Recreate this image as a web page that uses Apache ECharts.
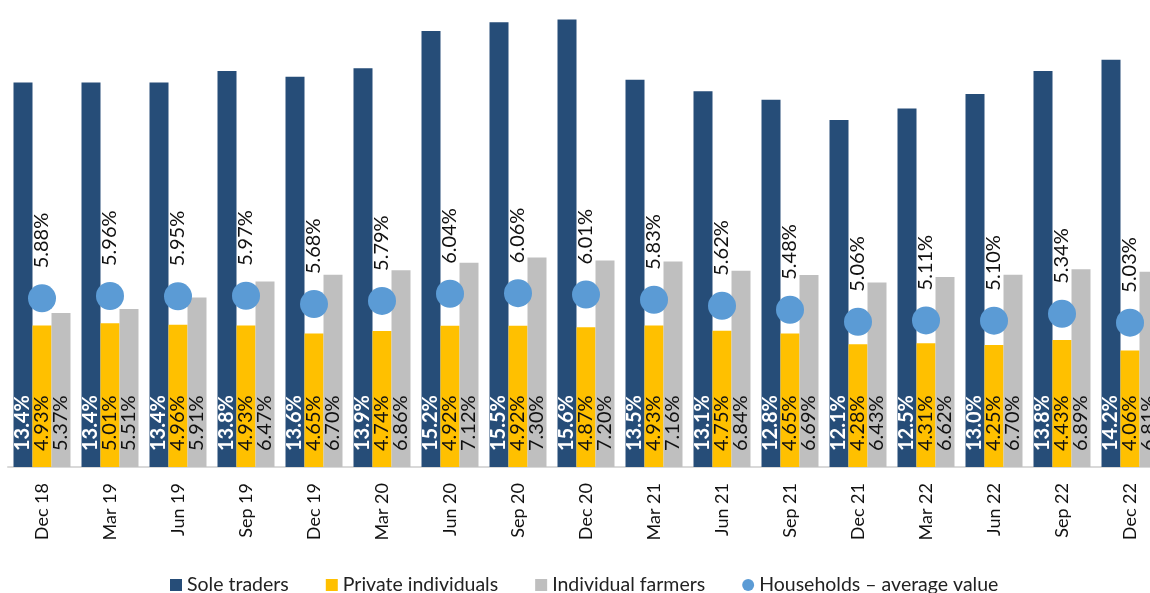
<!DOCTYPE html>
<html>
<head>
<meta charset="utf-8">
<script src="https://cdn.jsdelivr.net/npm/echarts@6/dist/echarts.min.js"></script>
<style>
  html, body { margin: 0; padding: 0; background: #fff; }
  #chart { width: 1150px; height: 593px; }
</style>
</head>
<body>
<div id="chart"></div>
<script>
const quarters = ['Dec 18', 'Mar 19', 'Jun 19', 'Sep 19', 'Dec 19', 'Mar 20', 'Jun 20', 'Sep 20', 'Dec 20',
  'Mar 21', 'Jun 21', 'Sep 21', 'Dec 21', 'Mar 22', 'Jun 22', 'Sep 22', 'Dec 22']
const soleTraders = [13.4, 13.4, 13.4, 13.8, 13.6, 13.9, 15.2, 15.5, 15.6, 13.5, 13.1, 12.8, 12.1, 12.5, 13.0, 13.8, 14.2]
const privateIndividuals = [4.93, 5.01, 4.96, 4.93, 4.65, 4.74, 4.92, 4.92, 4.87, 4.93, 4.75, 4.65, 4.28, 4.31, 4.25, 4.43, 4.06]
const farmers = [5.37, 5.51, 5.91, 6.47, 6.70, 6.86, 7.12, 7.30, 7.20, 7.16, 6.84, 6.69, 6.43, 6.62, 6.70, 6.89, 6.81]
const households = [5.88, 5.96, 5.95, 5.97, 5.68, 5.79, 6.04, 6.06, 6.01, 5.83, 5.62, 5.48, 5.06, 5.11, 5.10, 5.34, 5.03]

const font = 'Lato'

// label inside bar base, reading upwards
function baseLabel(color, bold, digits) {
  return {
    show: true,
    position: 'insideBottom',
    rotate: 90,
    align: 'left',
    verticalAlign: 'middle',
    distance: 16,
    color: color,
    fontFamily: font,
    fontSize: 20,
    fontWeight: bold ? 'bold' : 'normal',
    formatter: p => p.value.toFixed(digits) + '%'
  }
}

const chart = echarts.init(document.getElementById('chart'))
chart.setOption({
  animation: false,
  textStyle: { fontFamily: font },
  grid: { left: 8, right: -14, top: 8, bottom: 126, containLabel: false, outerBoundsMode: 'none' },
  legend: {
    top: 570,
    left: 165,
    itemGap: 37,
    itemWidth: 12,
    itemHeight: 12,
    textStyle: { fontFamily: font, fontSize: 19.5, color: '#222' },
    data: [
      { name: 'Sole traders', icon: 'rect' },
      { name: 'Private individuals', icon: 'rect' },
      { name: 'Individual farmers', icon: 'rect' },
      { name: 'Households – average value', icon: 'circle' }
    ]
  },
  xAxis: {
    type: 'category',
    data: quarters,
    axisTick: { show: false },
    axisLine: { lineStyle: { color: '#d9d9d9', width: 2 } },
    axisLabel: { rotate: 90, margin: 16, fontSize: 18, color: '#111', fontFamily: font }
  },
  yAxis: {
    type: 'value',
    min: 0,
    max: 16,
    show: false
  },
  series: [
    {
      name: 'Sole traders',
      type: 'bar',
      data: soleTraders,
      barWidth: 19,
      barGap: '0%',
      itemStyle: { color: '#264d78' },
      label: baseLabel('#fff', true, 1)
    },
    {
      name: 'Private individuals',
      type: 'bar',
      data: privateIndividuals,
      barWidth: 19,
      itemStyle: { color: '#ffc000' },
      label: baseLabel('#111', false, 2)
    },
    {
      name: 'Individual farmers',
      type: 'bar',
      data: farmers,
      barWidth: 19,
      itemStyle: { color: '#bfbfbf' },
      label: baseLabel('#111', false, 2)
    },
    {
      name: 'Households – average value',
      type: 'scatter',
      data: households,
      symbolSize: 28,
      z: 5,
      itemStyle: { color: '#5b9bd5', opacity: 1 },
      label: {
        show: true,
        position: 'top',
        rotate: 90,
        align: 'left',
        verticalAlign: 'middle',
        distance: 16,
        color: '#111',
        fontFamily: font,
        fontSize: 20,
        formatter: p => p.value.toFixed(2) + '%'
      }
    }
  ]
})
</script>
</body>
</html>
